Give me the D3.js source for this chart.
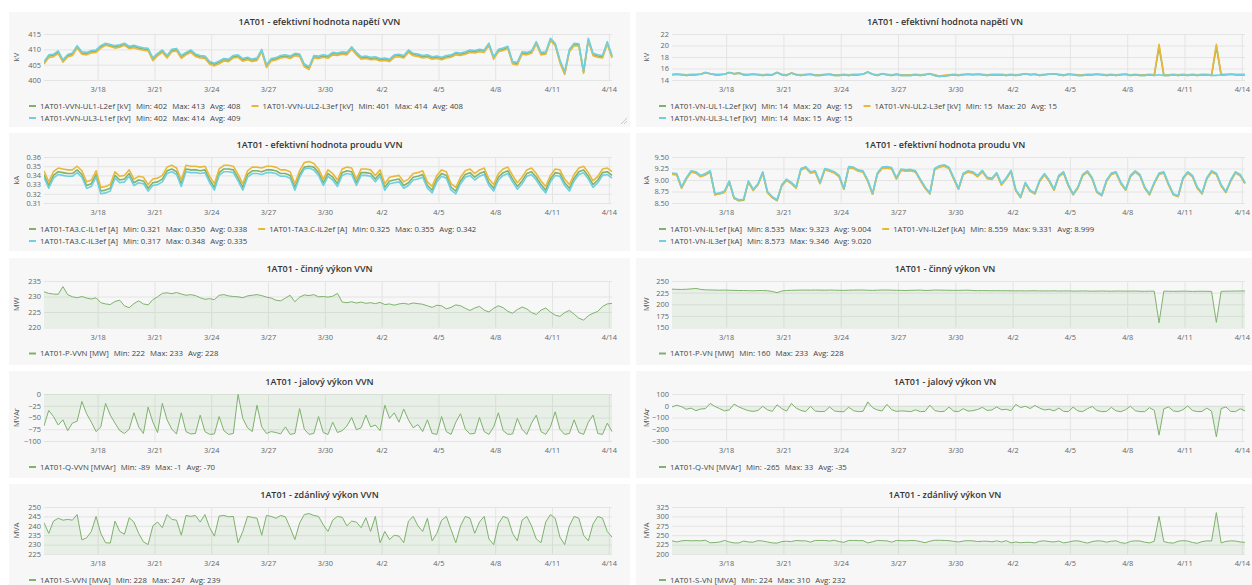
<!DOCTYPE html>
<html>
<head>
<meta charset="utf-8">
<script src="https://cdn.jsdelivr.net/npm/d3@7"></script>
<style>
  html, body { margin: 0; padding: 0; background: #ffffff; }
  svg { display: block; font-family: "Open Sans", "Noto Sans", sans-serif; }
</style>
</head>
<body>
<svg id="dash" width="1252" height="585"></svg>
<script>
// ---- time grid: one sample every 6 hours ----
const seriesStart = "2019-03-15T04:00";
const stepHours = 6;
const tickYear = 2019;
const dayTicks = ["3/18", "3/21", "3/24", "3/27", "3/30", "4/2", "4/5", "4/8", "4/11", "4/14"];

// ---- y axis ticks per panel ----
const vvnVoltageTicks = [400, 405, 410, 415];
const vnVoltageTicks = [14, 16, 18, 20, 22];
const vvnCurrentTicks = [0.31, 0.32, 0.33, 0.34, 0.35, 0.36];
const vnCurrentTicks = [8.5, 8.75, 9.0, 9.25, 9.5];
const vvnActiveTicks = [220, 225, 230, 235];
const vnActiveTicks = [150, 175, 200, 225, 250];
const vvnReactiveTicks = [-100, -75, -50, -25, 0];
const vnReactiveTicks = [-300, -200, -100, 0, 100];
const vvnApparentTicks = [225, 230, 235, 240, 245, 250];
const vnApparentTicks = [200, 225, 250, 275, 300, 325];

// ---- VVN voltage [kV] ----
const vvnUL1 = [
  405.6,407.8,408.0,409.0,406.2,407.9,408.4,410.7,408.8,408.6,
  409.2,409.4,410.8,411.6,411.2,410.8,411.1,411.6,410.6,410.9,
  410.4,410.1,409.9,406.8,408.3,409.4,407.6,409.6,409.9,407.6,
  408.6,409.4,408.1,407.6,407.4,405.6,405.1,405.8,406.6,406.4,
  407.6,407.8,406.6,407.0,406.4,406.8,409.5,404.6,406.6,406.9,
  407.6,407.8,407.4,408.3,408.1,404.8,403.9,407.6,407.4,407.8,
  407.5,408.6,408.4,408.8,408.6,410.4,408.6,407.2,407.4,407.0,
  407.2,406.6,406.8,406.4,407.8,408.0,407.6,409.4,408.3,408.1,
  407.6,407.8,407.2,407.4,407.0,407.6,407.8,408.6,408.4,408.8,
  409.4,409.2,409.6,409.4,411.6,407.2,409.6,410.0,410.6,405.6,
  405.4,408.8,408.6,409.1,412.0,408.6,408.8,413.0,411.6,406.1,
  402.2,409.6,411.6,411.4,402.6,413.0,408.3,407.8,407.6,412.0,
  407.6];
const vvnUL2 = [
  405.2,407.3,407.6,408.6,405.8,407.5,408.0,410.4,408.4,408.2,
  408.8,409.0,410.4,411.3,410.9,410.4,410.7,411.3,410.2,410.5,
  410.0,409.7,409.5,406.3,407.9,409.0,407.2,409.2,409.5,407.1,
  408.2,409.0,407.7,407.2,407.0,405.1,404.6,405.3,406.2,406.0,
  407.2,407.4,406.1,406.6,406.0,406.4,409.2,404.1,406.2,406.5,
  407.2,407.4,407.0,407.9,407.7,404.3,403.4,407.2,407.0,407.4,
  407.1,408.2,408.0,408.4,408.2,410.0,408.2,406.8,407.0,406.6,
  406.8,406.2,406.4,406.0,407.4,407.6,407.2,409.0,407.9,407.7,
  407.2,407.4,406.8,407.0,406.6,407.2,407.4,408.2,408.0,408.4,
  409.0,408.8,409.2,409.0,411.3,406.8,409.2,409.6,410.2,405.2,
  404.9,408.4,408.2,408.7,411.8,408.2,408.4,413.0,411.2,405.6,
  401.8,409.2,411.2,411.0,402.2,413.0,407.9,407.4,407.2,411.8,
  407.2];
const vvnUL3 = [
  406.0,408.2,408.4,409.5,406.6,408.3,408.8,411.2,409.2,409.0,
  409.6,409.8,411.2,412.0,411.6,411.2,411.5,412.0,411.0,411.3,
  410.8,410.5,410.3,407.2,408.7,409.8,408.0,410.0,410.3,408.0,
  409.0,409.8,408.5,408.0,407.8,406.0,405.5,406.2,407.0,406.8,
  408.0,408.2,407.0,407.4,406.8,407.2,410.0,405.0,407.0,407.3,
  408.0,408.2,407.8,408.7,408.5,405.2,404.3,408.0,407.8,408.2,
  407.9,409.0,408.8,409.2,409.0,410.8,409.0,407.6,407.8,407.4,
  407.6,407.0,407.2,406.8,408.2,408.4,408.0,409.8,408.7,408.5,
  408.0,408.2,407.6,407.8,407.4,408.0,408.2,409.0,408.8,409.2,
  409.8,409.6,410.0,409.8,412.0,407.6,410.0,410.4,411.0,406.0,
  405.8,409.2,409.0,409.5,412.5,409.0,409.2,413.6,412.0,406.5,
  402.7,410.0,412.0,411.8,403.0,413.6,408.7,408.2,408.0,412.5,
  408.0];

// ---- VN voltage [kV] ----
const vnUL1 = [
  14.9,15.0,14.9,14.8,14.9,14.9,15.0,15.3,15.1,14.9,
  14.9,15.0,15.3,15.1,15.2,14.9,14.9,15.0,14.9,14.8,
  14.9,14.9,15.3,14.9,14.8,15.2,14.9,14.8,14.9,15.0,
  14.8,14.8,14.9,15.0,14.8,14.8,14.9,14.8,14.9,14.9,
  15.0,15.4,15.0,14.8,15.1,14.9,14.8,15.0,14.8,14.8,
  14.8,14.9,14.8,14.9,15.1,14.8,14.6,14.7,14.8,14.9,
  14.8,14.9,15.0,14.9,15.0,14.9,14.8,14.9,14.9,14.9,
  14.8,14.9,14.8,14.9,15.1,14.9,15.0,14.8,14.9,15.0,
  15.1,14.9,14.8,15.0,14.9,14.8,14.8,14.9,14.9,15.0,
  14.9,14.8,14.9,14.8,14.9,15.0,14.8,14.9,14.8,14.8,
  14.9,14.8,19.8,14.8,14.8,14.9,14.8,14.9,14.8,14.9,
  14.8,14.9,14.9,14.8,19.8,14.9,14.9,15.0,14.9,14.9,
  14.9];
const vnUL2 = [
  15.0,15.0,15.0,14.9,15.0,15.0,15.0,15.3,15.1,15.0,
  15.0,15.0,15.3,15.1,15.2,15.0,15.0,15.0,15.0,14.9,
  15.0,14.9,15.3,15.0,14.9,15.2,15.0,14.9,15.0,15.0,
  14.9,14.9,15.0,15.0,14.9,14.9,15.0,14.9,15.0,15.0,
  15.0,15.4,15.0,14.9,15.1,15.0,14.9,15.0,14.9,14.9,
  14.9,15.0,14.9,15.0,15.1,14.9,14.7,14.8,14.9,15.0,
  14.9,15.0,15.0,15.0,15.0,15.0,14.9,15.0,15.0,15.0,
  14.9,15.0,14.9,15.0,15.1,15.0,15.0,14.9,15.0,15.0,
  15.1,15.0,14.9,15.0,15.0,14.9,14.9,15.0,15.0,15.0,
  15.0,14.9,15.0,14.9,15.0,15.0,14.9,15.0,14.9,14.9,
  15.0,14.9,20.2,14.9,14.9,15.0,14.9,15.0,14.9,15.0,
  14.9,15.0,15.0,14.9,20.2,15.0,15.0,15.0,15.0,15.0,
  15.0];
const vnUL3 = [
  14.9,15.0,14.9,14.8,14.9,14.9,15.0,15.3,15.1,14.9,
  14.9,15.0,15.3,15.1,15.2,14.9,14.9,15.0,14.9,14.8,
  14.9,14.9,15.3,14.9,14.8,15.2,14.9,14.8,14.9,15.0,
  14.8,14.8,14.9,15.0,14.8,14.8,14.9,14.8,14.9,14.9,
  15.0,15.4,15.0,14.8,15.1,14.9,14.8,15.0,14.8,14.8,
  14.8,14.9,14.8,14.9,15.1,14.8,14.6,14.7,14.8,14.9,
  14.8,14.9,15.0,14.9,15.0,14.9,14.8,14.9,14.9,14.9,
  14.8,14.9,14.8,14.9,15.1,14.9,15.0,14.8,14.9,15.0,
  15.1,14.9,14.8,15.0,14.9,14.8,14.8,14.9,14.9,15.0,
  14.9,14.8,14.9,14.8,14.9,15.0,14.8,14.9,14.8,14.8,
  14.9,14.8,14.9,14.8,14.8,14.9,14.8,14.9,14.8,14.9,
  14.8,14.9,14.9,14.8,14.8,14.9,14.9,15.0,14.9,14.9,
  14.9];

// ---- VVN current [kA] ----
const vvnIL1 = [
  0.341,0.329,0.340,0.344,0.343,0.342,0.342,0.346,0.341,0.329,
  0.331,0.341,0.323,0.324,0.326,0.340,0.335,0.336,0.342,0.332,
  0.335,0.334,0.326,0.332,0.333,0.336,0.345,0.347,0.344,0.331,
  0.347,0.346,0.346,0.345,0.346,0.335,0.327,0.343,0.347,0.347,
  0.346,0.337,0.327,0.341,0.345,0.345,0.344,0.346,0.346,0.345,
  0.342,0.342,0.340,0.327,0.341,0.349,0.350,0.349,0.343,0.332,
  0.342,0.338,0.331,0.343,0.345,0.344,0.332,0.343,0.343,0.342,
  0.336,0.342,0.327,0.334,0.335,0.336,0.329,0.332,0.338,0.339,
  0.341,0.329,0.324,0.336,0.342,0.340,0.327,0.323,0.334,0.341,
  0.343,0.338,0.342,0.344,0.332,0.326,0.338,0.343,0.345,0.336,
  0.328,0.334,0.342,0.344,0.338,0.330,0.324,0.336,0.343,0.342,
  0.332,0.326,0.337,0.344,0.346,0.339,0.330,0.335,0.343,0.344,
  0.340];
const vvnIL2 = [
  0.345,0.333,0.344,0.348,0.347,0.346,0.346,0.350,0.345,0.333,
  0.335,0.345,0.327,0.328,0.330,0.344,0.339,0.340,0.346,0.336,
  0.339,0.338,0.330,0.336,0.337,0.340,0.349,0.351,0.348,0.335,
  0.351,0.350,0.350,0.349,0.350,0.339,0.331,0.347,0.351,0.351,
  0.350,0.341,0.331,0.345,0.349,0.349,0.348,0.350,0.350,0.349,
  0.346,0.346,0.344,0.331,0.345,0.354,0.355,0.353,0.347,0.336,
  0.346,0.342,0.335,0.347,0.349,0.348,0.336,0.347,0.347,0.346,
  0.340,0.346,0.331,0.338,0.339,0.340,0.333,0.336,0.342,0.343,
  0.345,0.333,0.328,0.340,0.346,0.344,0.331,0.327,0.338,0.345,
  0.347,0.342,0.346,0.348,0.336,0.330,0.342,0.347,0.349,0.340,
  0.332,0.338,0.346,0.348,0.342,0.334,0.328,0.340,0.347,0.346,
  0.336,0.330,0.341,0.348,0.350,0.343,0.334,0.339,0.347,0.348,
  0.344];
const vvnIL3 = [
  0.338,0.326,0.337,0.341,0.340,0.339,0.339,0.343,0.338,0.326,
  0.328,0.338,0.320,0.321,0.323,0.337,0.332,0.333,0.339,0.329,
  0.332,0.331,0.323,0.329,0.330,0.333,0.342,0.344,0.341,0.328,
  0.344,0.343,0.343,0.342,0.343,0.332,0.324,0.340,0.344,0.344,
  0.343,0.334,0.324,0.338,0.342,0.342,0.341,0.343,0.343,0.342,
  0.339,0.339,0.337,0.324,0.338,0.347,0.348,0.346,0.340,0.329,
  0.339,0.335,0.328,0.340,0.342,0.341,0.329,0.340,0.340,0.339,
  0.333,0.339,0.324,0.331,0.332,0.333,0.326,0.329,0.335,0.336,
  0.338,0.326,0.321,0.333,0.339,0.337,0.324,0.320,0.331,0.338,
  0.340,0.335,0.339,0.341,0.329,0.323,0.335,0.340,0.342,0.333,
  0.325,0.331,0.339,0.341,0.335,0.327,0.321,0.333,0.340,0.339,
  0.329,0.323,0.334,0.341,0.343,0.336,0.327,0.332,0.340,0.341,
  0.337];

// ---- VN current [kA] ----
const vnIL1 = [
  9.13,9.12,8.83,9.03,9.18,9.16,9.08,9.12,9.18,8.68,
  8.70,8.74,8.96,8.60,8.55,8.56,8.96,8.78,8.90,9.16,
  8.73,8.62,8.55,8.88,9.00,8.93,8.83,9.23,9.27,9.16,
  9.18,8.93,9.23,9.20,9.16,9.08,8.80,9.27,9.26,9.20,
  9.18,8.98,8.69,9.13,9.26,9.27,9.25,9.03,9.22,9.20,
  9.21,9.18,9.00,8.83,8.70,9.23,9.29,9.31,9.26,9.03,
  8.80,9.13,9.18,9.16,9.08,9.19,9.04,9.02,9.14,8.90,
  9.03,9.19,8.77,8.62,8.93,8.76,8.70,8.98,9.12,8.98,
  8.78,9.08,9.16,8.88,8.68,8.83,9.10,9.18,9.03,8.73,
  8.66,8.98,9.13,9.16,8.93,8.78,9.08,9.18,9.10,8.83,
  8.68,8.93,9.13,9.16,8.90,8.68,8.64,9.03,9.16,9.08,
  8.83,8.70,9.03,9.18,9.13,8.88,8.73,8.98,9.16,9.10,
  8.93];
const vnIL2 = [
  9.12,9.11,8.82,9.02,9.17,9.15,9.07,9.11,9.17,8.68,
  8.70,8.73,8.95,8.60,8.56,8.57,8.95,8.77,8.89,9.15,
  8.72,8.62,8.56,8.87,8.99,8.92,8.82,9.22,9.26,9.15,
  9.17,8.92,9.22,9.19,9.15,9.07,8.80,9.26,9.25,9.19,
  9.17,8.97,8.69,9.12,9.25,9.26,9.24,9.02,9.21,9.19,
  9.20,9.17,8.99,8.82,8.70,9.22,9.28,9.30,9.25,9.02,
  8.80,9.12,9.17,9.15,9.07,9.18,9.03,9.01,9.13,8.89,
  9.02,9.18,8.77,8.62,8.92,8.76,8.70,8.97,9.11,8.97,
  8.78,9.07,9.15,8.87,8.68,8.82,9.09,9.17,9.02,8.73,
  8.66,8.97,9.12,9.15,8.92,8.78,9.07,9.17,9.09,8.82,
  8.68,8.92,9.12,9.15,8.89,8.68,8.64,9.02,9.15,9.07,
  8.82,8.70,9.02,9.17,9.12,8.87,8.73,8.97,9.15,9.09,
  8.92];
const vnIL3 = [
  9.15,9.14,8.85,9.05,9.20,9.18,9.10,9.14,9.20,8.70,
  8.72,8.76,8.98,8.62,8.57,8.58,8.98,8.80,8.92,9.18,
  8.75,8.64,8.57,8.90,9.02,8.95,8.85,9.25,9.29,9.18,
  9.20,8.95,9.25,9.22,9.18,9.10,8.82,9.29,9.28,9.22,
  9.20,9.00,8.71,9.15,9.28,9.29,9.27,9.05,9.24,9.22,
  9.23,9.20,9.02,8.85,8.72,9.25,9.31,9.33,9.28,9.05,
  8.82,9.15,9.20,9.18,9.10,9.21,9.06,9.04,9.16,8.92,
  9.05,9.21,8.79,8.64,8.95,8.78,8.72,9.00,9.14,9.00,
  8.80,9.10,9.18,8.90,8.70,8.85,9.12,9.20,9.05,8.75,
  8.68,9.00,9.15,9.18,8.95,8.80,9.10,9.20,9.12,8.85,
  8.70,8.95,9.15,9.18,8.92,8.70,8.66,9.05,9.18,9.10,
  8.85,8.72,9.05,9.20,9.15,8.90,8.75,9.00,9.18,9.12,
  8.95];

// ---- active power [MW] ----
const vvnP = [
  231.5,231.0,230.8,230.7,233.2,230.6,229.9,229.6,230.0,229.5,
  229.2,229.6,228.0,227.6,227.4,228.4,228.8,227.0,226.4,227.7,
  228.6,227.6,227.3,229.0,229.9,231.0,231.2,230.9,231.3,230.8,
  230.4,230.6,230.3,229.6,229.1,229.3,229.0,230.4,230.6,230.2,
  230.0,229.9,229.6,230.2,230.4,230.6,230.3,229.8,229.5,228.8,
  228.6,229.5,230.4,228.3,229.8,230.5,230.3,230.6,229.9,230.0,
  229.8,230.1,231.0,228.2,228.0,228.3,227.9,228.2,227.8,228.0,
  227.7,228.1,227.4,227.6,227.2,227.6,227.8,227.5,227.9,227.7,
  227.5,227.0,226.5,227.2,227.0,226.0,226.5,227.3,227.0,226.2,
  225.5,226.3,226.8,225.6,225.0,226.2,227.0,226.4,225.2,224.6,
  225.8,226.6,226.0,224.8,224.2,225.6,226.3,225.0,224.0,223.6,
  224.8,225.5,224.3,223.0,222.4,223.8,224.6,225.2,226.8,227.6,
  227.8];
const vnP = [
  232.5,232.0,231.8,232.2,233.0,234.0,232.0,231.0,230.8,230.5,
  230.2,230.5,230.0,229.8,229.5,229.6,229.2,229.0,229.4,229.6,
  229.0,227.5,225.0,228.5,229.6,230.0,230.2,230.4,230.5,230.3,
  230.6,230.4,230.2,230.5,230.3,230.0,229.8,230.2,230.4,230.6,
  230.5,230.2,229.8,230.3,230.5,230.6,230.3,230.0,229.8,229.6,
  230.0,230.2,230.5,229.6,229.9,230.6,230.4,230.2,230.0,229.8,
  229.9,230.1,230.3,229.5,229.2,229.4,229.3,229.0,229.2,229.0,
  229.1,228.9,228.7,228.9,228.6,228.8,228.9,228.5,228.7,228.6,
  228.8,228.4,228.5,228.7,228.2,228.3,228.6,228.4,228.1,228.3,
  228.5,228.2,228.0,228.3,228.4,228.1,228.2,228.4,228.0,227.8,
  228.1,228.0,160.0,228.2,228.0,227.8,227.9,228.2,228.0,227.6,
  227.8,228.0,227.8,227.6,161.0,227.8,228.0,228.2,228.4,228.5,
  228.6];

// ---- reactive power [MVAr] ----
const vvnQ = [
  -68,-35,-48,-66,-55,-78,-62,-58,-16,-42,
  -60,-80,-70,-20,-45,-62,-78,-84,-75,-40,
  -70,-84,-28,-60,-82,-20,-55,-75,-85,-40,
  -80,-85,-84,-45,-80,-86,-85,-48,-78,-86,
  -84,-1,-52,-72,-80,-24,-70,-84,-80,-82,
  -85,-70,-86,-84,-31,-75,-86,-84,-48,-82,
  -86,-60,-82,-78,-68,-50,-76,-72,-45,-70,
  -66,-78,-24,-52,-40,-60,-32,-55,-72,-65,
  -80,-55,-84,-86,-48,-80,-86,-60,-42,-75,
  -85,-84,-50,-80,-86,-70,-40,-78,-86,-85,
  -52,-75,-86,-62,-45,-80,-86,-70,-38,-75,
  -86,-84,-55,-82,-86,-60,-45,-84,-86,-62,
  -80];
const vnQ = [
  -10,5,-8,-30,-20,-42,-28,-24,20,-6,
  -25,-44,-35,14,-10,-27,-42,-48,-40,-5,
  -35,-48,8,-25,-46,20,-20,-40,-50,-5,
  -45,-50,-48,-10,-44,-50,-50,-12,-42,-50,
  -48,33,-16,-36,-44,12,-34,-48,-44,-46,
  -50,-35,-50,-48,5,-40,-50,-48,-12,-46,
  -50,-25,-46,-42,-32,-14,-40,-36,-10,-34,
  -30,-42,12,-16,-4,-24,2,-20,-36,-30,
  -44,-20,-48,-50,-12,-44,-50,-25,-6,-40,
  -50,-48,-14,-44,-50,-34,-4,-42,-50,-50,
  -16,-40,-250,-26,-10,-44,-50,-34,-2,-40,
  -50,-48,-20,-46,-265,-24,-10,-48,-50,-26,
  -44];

// ---- apparent power [MVA] ----
const vvnS = [
  241.6,236.0,242.5,244.0,243.0,243.4,243.0,246.0,232.5,233.6,
  237.0,245.0,236.0,231.0,230.8,242.5,237.0,235.5,244.3,242.0,
  236.0,231.5,230.0,240.0,242.0,239.0,246.0,243.4,243.0,235.0,
  245.5,245.0,245.5,242.0,246.0,239.0,234.5,245.2,245.5,244.8,
  245.0,231.0,237.0,245.0,244.5,244.0,235.0,245.5,245.0,244.0,
  245.5,244.8,239.0,232.7,241.5,246.0,246.5,245.5,245.0,240.5,
  237.0,243.0,245.0,244.5,240.0,242.5,242.0,239.0,244.3,237.0,
  245.0,231.0,237.0,232.7,235.0,234.5,231.0,242.5,245.0,240.0,
  237.0,244.0,232.0,236.0,243.0,245.0,238.0,231.0,240.0,245.0,
  244.0,236.0,242.0,245.0,233.0,230.0,241.0,245.0,244.0,236.0,
  232.0,243.0,245.0,240.0,233.0,231.0,242.0,246.0,244.0,234.0,
  230.0,240.0,245.0,244.0,235.0,232.0,241.0,245.0,244.0,237.0,
  234.0];
const vnS = [
  235.0,232.0,235.0,236.0,235.0,235.5,235.0,236.5,230.0,230.5,
  232.0,236.0,232.0,229.5,229.5,234.5,232.0,231.5,235.5,234.5,
  232.0,229.5,229.0,233.0,234.0,233.0,236.0,235.0,235.0,231.5,
  236.0,236.0,236.0,234.5,236.5,233.0,231.0,236.0,236.0,235.5,
  235.5,229.5,232.5,236.0,235.5,235.0,231.5,236.0,235.5,235.0,
  236.0,235.5,233.0,230.0,234.0,236.5,236.5,236.0,235.5,233.5,
  232.0,234.5,235.5,235.0,233.0,234.0,234.0,232.5,235.0,232.0,
  235.5,229.5,232.0,230.0,231.0,231.0,229.5,234.0,235.0,233.0,
  232.0,234.5,229.5,231.5,234.5,235.0,232.0,229.0,233.0,235.0,
  234.5,231.5,234.0,235.0,230.0,228.5,233.5,235.0,234.5,231.5,
  229.5,234.0,300.0,233.0,230.0,229.0,234.0,235.5,234.5,230.5,
  228.5,233.0,235.0,234.5,310.0,229.5,233.5,235.0,234.5,232.0,
  231.0];

// ---- legend texts: [name, min, max, avg] ----
const vvnVoltageLegend = [
  ["1AT01-VVN-UL1-L2ef [kV]", "402", "413", "408"],
  ["1AT01-VVN-UL2-L3ef [kV]", "401", "414", "408"],
  ["1AT01-VVN-UL3-L1ef [kV]", "402", "414", "409"]];
const vnVoltageLegend = [
  ["1AT01-VN-UL1-L2ef [kV]", "14", "20", "15"],
  ["1AT01-VN-UL2-L3ef [kV]", "15", "20", "15"],
  ["1AT01-VN-UL3-L1ef [kV]", "14", "15", "15"]];
const vvnCurrentLegend = [
  ["1AT01-TA3.C-IL1ef [A]", "0.321", "0.350", "0.338"],
  ["1AT01-TA3.C-IL2ef [A]", "0.325", "0.355", "0.342"],
  ["1AT01-TA3.C-IL3ef [A]", "0.317", "0.348", "0.335"]];
const vnCurrentLegend = [
  ["1AT01-VN-IL1ef [kA]", "8.535", "9.323", "9.004"],
  ["1AT01-VN-IL2ef [kA]", "8.559", "9.331", "8.999"],
  ["1AT01-VN-IL3ef [kA]", "8.573", "9.346", "9.020"]];
const vvnActiveLegend = [["1AT01-P-VVN [MW]", "222", "233", "228"]];
const vnActiveLegend = [["1AT01-P-VN [MW]", "160", "233", "228"]];
const vvnReactiveLegend = [["1AT01-Q-VVN [MVAr]", "-89", "-1", "-70"]];
const vnReactiveLegend = [["1AT01-Q-VN [MVAr]", "-265", "33", "-35"]];
const vvnApparentLegend = [["1AT01-S-VVN [MVA]", "228", "247", "239"]];
const vnApparentLegend = [["1AT01-S-VN [MVA]", "224", "310", "232"]];

// ---- styling ----
const palette = ["#7eb26d", "#eab839", "#6ed0e0"];
const panelFill = "#f7f7f7";
const gridColor = "#e4e4e4";

// ---- layout of the dashboard grid ----
const columns = [
  { panelX: 9, panelW: 621, plotX0: 44, plotX1: 612, unitX: 16, legendX: 29 },
  { panelX: 636, panelW: 630, plotX0: 672, plotX1: 1245, unitX: 646, legendX: 659 }
];
const rows = [
  { top: 12, bottom: 127, plotTop: 34, plotBottom: 80 },
  { top: 133, bottom: 251, plotTop: 157, plotBottom: 203 },
  { top: 258, bottom: 365, plotTop: 281, plotBottom: 327.5 },
  { top: 371, bottom: 478, plotTop: 394, plotBottom: 441 },
  { top: 484, bottom: 600, plotTop: 507, plotBottom: 554 }
];

const panels = [
  { row: 0, col: 0, title: "1AT01 - efektivní hodnota napětí VVN", unit: "kV", ticks: vvnVoltageTicks, fmt: "d",
    series: [vvnUL1, vvnUL2, vvnUL3], legend: vvnVoltageLegend, fill: false, handle: true },
  { row: 0, col: 1, title: "1AT01 - efektivní hodnota napětí VN", unit: "kV", ticks: vnVoltageTicks, fmt: "d",
    series: [vnUL1, vnUL2, vnUL3], legend: vnVoltageLegend, fill: false },
  { row: 1, col: 0, title: "1AT01 - efektivní hodnota proudu VVN", unit: "kA", ticks: vvnCurrentTicks, fmt: ".2f",
    series: [vvnIL1, vvnIL2, vvnIL3], legend: vvnCurrentLegend, fill: false },
  { row: 1, col: 1, title: "1AT01 - efektivní hodnota proudu VN", unit: "kA", ticks: vnCurrentTicks, fmt: ".2f",
    series: [vnIL1, vnIL2, vnIL3], legend: vnCurrentLegend, fill: false },
  { row: 2, col: 0, title: "1AT01 - činný výkon VVN", unit: "MW", ticks: vvnActiveTicks, fmt: "d",
    series: [vvnP], legend: vvnActiveLegend, fill: true },
  { row: 2, col: 1, title: "1AT01 - činný výkon VN", unit: "MW", ticks: vnActiveTicks, fmt: "d",
    series: [vnP], legend: vnActiveLegend, fill: true },
  { row: 3, col: 0, title: "1AT01 - jalový výkon VVN", unit: "MVAr", ticks: vvnReactiveTicks, fmt: "d",
    series: [vvnQ], legend: vvnReactiveLegend, fill: true },
  { row: 3, col: 1, title: "1AT01 - jalový výkon VN", unit: "MVAr", ticks: vnReactiveTicks, fmt: "d",
    series: [vnQ], legend: vnReactiveLegend, fill: true },
  { row: 4, col: 0, title: "1AT01 - zdánlivý výkon VVN", unit: "MVA", ticks: vvnApparentTicks, fmt: "d",
    series: [vvnS], legend: vvnApparentLegend, fill: true },
  { row: 4, col: 1, title: "1AT01 - zdánlivý výkon VN", unit: "MVA", ticks: vnApparentTicks, fmt: "d",
    series: [vnS], legend: vnApparentLegend, fill: true }
];

// ---- time helpers ----
const parseStart = d3.utcParse("%Y-%m-%dT%H:%M");
const parseDay = d3.utcParse("%Y/%m/%d");
const t0 = parseStart(seriesStart);
const sampleCount = vvnUL1.length;
const times = d3.range(sampleCount).map(i => d3.utcHour.offset(t0, i * stepHours));
const tickDates = dayTicks.map(s => parseDay(tickYear + "/" + s));

const svg = d3.select("#dash");

panels.forEach((p, pi) => {
  const c = columns[p.col], r = rows[p.row];
  const g = svg.append("g").attr("class", "panel");

  g.append("rect")
    .attr("x", c.panelX).attr("y", r.top)
    .attr("width", c.panelW).attr("height", r.bottom - r.top)
    .attr("fill", panelFill);

  const x = d3.scaleUtc().domain([times[0], times[times.length - 1]]).range([c.plotX0, c.plotX1]);
  const y = d3.scaleLinear().domain(d3.extent(p.ticks)).range([r.plotBottom, r.plotTop]);
  const plotH = r.plotBottom - r.plotTop;
  const plotW = c.plotX1 - c.plotX0;

  // title
  g.append("text")
    .attr("x", c.panelX + c.panelW / 2 + (p.col === 1 ? -6 : 0))
    .attr("y", r.plotTop - 12)
    .attr("dy", "0.35em")
    .attr("text-anchor", "middle")
    .attr("font-size", 9)
    .attr("font-weight", 600)
    .attr("fill", "#333")
    .text(p.title);

  // grid lines
  const xGrid = g.append("g")
    .attr("transform", `translate(0,${r.plotBottom})`)
    .call(d3.axisBottom(x).tickValues(tickDates).tickSize(-plotH).tickFormat(""));
  const yGrid = g.append("g")
    .attr("transform", `translate(${c.plotX0},0)`)
    .call(d3.axisLeft(y).tickValues(p.ticks).tickSize(-plotW).tickFormat(""));
  [xGrid, yGrid].forEach(a => {
    a.select(".domain").remove();
    a.selectAll("line").attr("stroke", gridColor).attr("stroke-width", 1);
  });

  // tick labels
  const xAxis = g.append("g")
    .attr("transform", `translate(0,${r.plotBottom})`)
    .call(d3.axisBottom(x).tickValues(tickDates).tickSize(0).tickPadding(7)
      .tickFormat((d, i) => dayTicks[i]));
  const yAxis = g.append("g")
    .attr("transform", `translate(${c.plotX0},0)`)
    .call(d3.axisLeft(y).tickValues(p.ticks).tickSize(0).tickPadding(3).tickFormat(d3.format(p.fmt)));
  [xAxis, yAxis].forEach(a => {
    a.select(".domain").remove();
    a.attr("font-family", null).attr("font-size", null);
    a.selectAll("text").attr("font-size", 7.4).attr("fill", "#666");
  });

  // unit label
  g.append("text")
    .attr("transform", `translate(${c.unitX},${(r.plotTop + r.plotBottom) / 2}) rotate(-90)`)
    .attr("text-anchor", "middle")
    .attr("dy", "0.35em")
    .attr("font-size", 7.4)
    .attr("fill", "#555")
    .text(p.unit);

  // plot clip
  const clipId = "clip" + pi;
  g.append("clipPath").attr("id", clipId)
    .append("rect").attr("x", c.plotX0).attr("y", r.plotTop - 1)
    .attr("width", plotW + 1).attr("height", plotH + 1);
  const plot = g.append("g").attr("clip-path", `url(#${clipId})`);

  const [d0, d1] = y.domain();
  const base = Math.max(d0, Math.min(0, d1));

  p.series.forEach((vals, si) => {
    const pts = vals.map((v, i) => [times[i], v]);
    const color = palette[si];
    if (p.fill) {
      plot.append("path")
        .datum(pts)
        .attr("fill", color)
        .attr("fill-opacity", 0.12)
        .attr("d", d3.area().x(d => x(d[0])).y0(y(base)).y1(d => y(d[1])));
    }
    plot.append("path")
      .datum(pts)
      .attr("fill", "none")
      .attr("stroke", color)
      .attr("stroke-width", p.series.length > 1 ? 1.6 : 1)
      .attr("stroke-linejoin", "round")
      .attr("d", d3.line().x(d => x(d[0])).y(d => y(d[1])));
  });

  // legend
  const legendRight = c.panelX + c.panelW - 8;
  let lx = c.legendX, ly = r.plotBottom + 26;
  p.legend.forEach((item, si) => {
    const lg = g.append("g");
    lg.append("line")
      .attr("x1", 0).attr("x2", 7).attr("y1", 0).attr("y2", 0)
      .attr("stroke", palette[si]).attr("stroke-width", 2);
    const t = lg.append("text")
      .attr("x", 11).attr("dy", "0.35em")
      .attr("font-size", 7.8).attr("fill", "#444");
    t.append("tspan").text(item[0]);
    t.append("tspan").attr("dx", 5).text("Min: " + item[1]);
    t.append("tspan").attr("dx", 5).text("Max: " + item[2]);
    t.append("tspan").attr("dx", 5).text("Avg: " + item[3]);
    const w = 11 + t.node().getComputedTextLength() + 15 + 11;
    if (si > 0 && lx + w > legendRight) { lx = c.legendX; ly += 12; }
    lg.attr("transform", `translate(${lx},${ly})`);
    lx += w;
  });

  // panel resize grip in the bottom-right corner
  if (p.handle) {
    const gx = c.panelX + c.panelW - 3, gy = r.bottom - 3;
    [3, 6].forEach(s => {
      g.append("line")
        .attr("x1", gx - s).attr("y1", gy).attr("x2", gx).attr("y2", gy - s)
        .attr("stroke", "#bbb").attr("stroke-width", 0.8);
    });
  }
});
</script>
</body>
</html>
